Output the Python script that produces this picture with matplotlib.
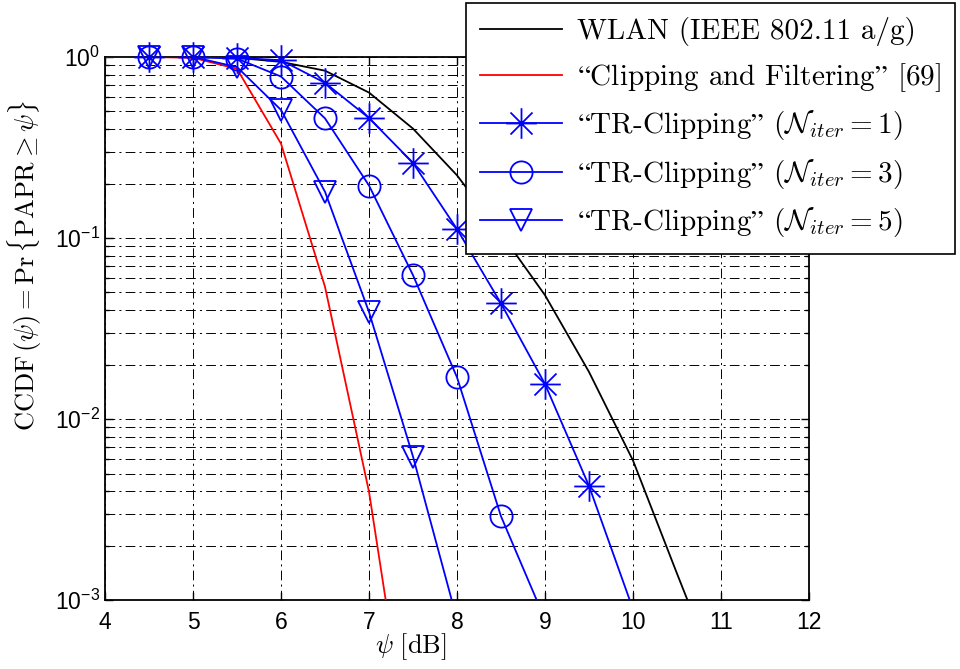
import numpy as np
import matplotlib
matplotlib.use("Agg")
from matplotlib import pyplot as plt
from matplotlib.path import Path
from matplotlib.font_manager import FontProperties
from matplotlib.ticker import LogLocator, LogFormatterSciNotation, NullFormatter

# PAPR threshold psi [dB]
psi = [4.0, 4.5, 5.0, 5.5, 6.0, 6.5, 7.0, 7.5, 8.0, 8.5, 9.0, 9.5, 10.0, 10.5, 11.0]

# CCDF values
ccdf_wlan = [1.0, 1.0, 1.0, 0.99, 0.94, 0.84, 0.636, 0.402, 0.222, 0.106, 0.0483, 0.0182, 0.0059, 0.0014, 0.00034]
ccdf_clip_filter = [1.0, 1.0, 0.99, 0.86, 0.332, 0.0537, 0.00396, 0.000105]
ccdf_tr_1 = [1.0, 1.0, 1.0, 0.99, 0.96, 0.72, 0.46, 0.26, 0.112, 0.0435, 0.0156, 0.00427, 0.00089]
ccdf_tr_3 = [1.0, 1.0, 1.0, 0.98, 0.78, 0.458, 0.195, 0.0623, 0.017, 0.0029, 0.00078]
ccdf_tr_5 = [1.0, 1.0, 1.0, 0.88, 0.51, 0.18, 0.039, 0.0062, 0.00078]

# curly quotes go through mathtext, cmr10 has no unicode quotes
lq, rq = "$\\mathrm{\u201c}$", "$\\mathrm{\u201d}$"
labels = [
    "WLAN (IEEE 802.11 a/g)",
    lq + "Clipping and Filtering" + rq + " [69]",
    lq + "TR-Clipping" + rq + " ($\\mathcal{N}_{iter}=1$)",
    lq + "TR-Clipping" + rq + " ($\\mathcal{N}_{iter}=3$)",
    lq + "TR-Clipping" + rq + " ($\\mathcal{N}_{iter}=5$)",
]
marker_start = 4.5
y_min, y_max = 1e-3, 1.0

plt.rcParams["font.family"] = ["Liberation Sans", "DejaVu Sans"]
plt.rcParams["mathtext.fontset"] = "custom"
plt.rcParams["mathtext.rm"] = "Liberation Sans"
plt.rcParams["mathtext.it"] = "Liberation Sans:italic"
plt.rcParams["lines.scale_dashes"] = False

# asterisk like the MATLAB '*' marker
star = Path(
    [(-1, 0), (1, 0), (0, -1), (0, 1), (-0.72, -0.72), (0.72, 0.72), (-0.72, 0.72), (0.72, -0.72)],
    [Path.MOVETO, Path.LINETO] * 4,
)

blue = "#0000ff"
fig = plt.figure(figsize=(9.6, 6.69), dpi=100)
ax = fig.add_axes([0.1094, 0.1031, 0.7333, 0.8117])
ax.set_yscale("log")

series = [
    (ccdf_wlan, "k", None, 0),
    (ccdf_clip_filter, "#ff0000", None, 0),
    (ccdf_tr_1, blue, star, 22),
    (ccdf_tr_3, blue, "o", 16),
    (ccdf_tr_5, blue, "v", 16),
]

handles = []
for (vals, color, marker, ms) in series:
    x = np.array(psi[: len(vals)])
    y = np.array(vals)
    (line,) = ax.plot(x, y, color=color, lw=1.3, zorder=3)
    if marker is None:
        handles.append(line)
        continue
    keep = (x >= marker_start) & (y >= y_min)
    (marks,) = ax.plot(x[keep], y[keep], ls="none", marker=marker, ms=ms, mfc="none",
                       mec=color, mew=1.3, clip_on=False, zorder=4)
    handles.append((line, marks))

ax.set_xlim(4, 12)
ax.set_ylim(y_min, y_max)
ax.set_xticks(range(4, 13))
ax.yaxis.set_major_locator(LogLocator(base=10, numticks=10))
ax.yaxis.set_minor_locator(LogLocator(base=10, subs=np.arange(2, 10), numticks=10))
ax.yaxis.set_major_formatter(LogFormatterSciNotation())
ax.yaxis.set_minor_formatter(NullFormatter())

grid_style = dict(color="k", lw=0.7, linestyle=(0, (7, 3, 1.5, 3)))
ax.grid(True, which="major", axis="x", **grid_style)
ax.grid(True, which="both", axis="y", **grid_style)
ax.set_axisbelow(True)

ax.tick_params(which="both", direction="in", top=True, right=True, labelsize=16.5, width=1)
ax.tick_params(which="major", length=6)
ax.tick_params(which="minor", length=3)
ax.tick_params(axis="x", pad=8)
for s in ax.spines.values():
    s.set_linewidth(1.3)

label_font = FontProperties(family=["cmr10", "DejaVu Serif"], math_fontfamily="cm", size=19)
ax.set_xlabel(r"$\psi\ [\mathrm{dB}]$", fontproperties=label_font)
ax.xaxis.set_label_coords(0.435, -0.058)
ax.set_ylabel(r"$\mathrm{CCDF}\,(\psi) = \mathrm{Pr}\,\{\mathrm{PAPR} \geq \psi\}$", fontproperties=label_font)
ax.yaxis.set_label_coords(-0.087, 0.615)

legend_font = FontProperties(family=["cmr10", "DejaVu Serif"], math_fontfamily="cm", size=21)
leg = fig.legend(handles, labels, loc="upper right", bbox_to_anchor=(0.995, 0.996),
                 prop=legend_font, fancybox=False, edgecolor="k", framealpha=1,
                 handlelength=2.8, handletextpad=0.5, labelspacing=0.5, borderpad=0.5,
                 borderaxespad=0)
leg.get_frame().set_linewidth(1.2)

fig.savefig("out.png", dpi=100)
